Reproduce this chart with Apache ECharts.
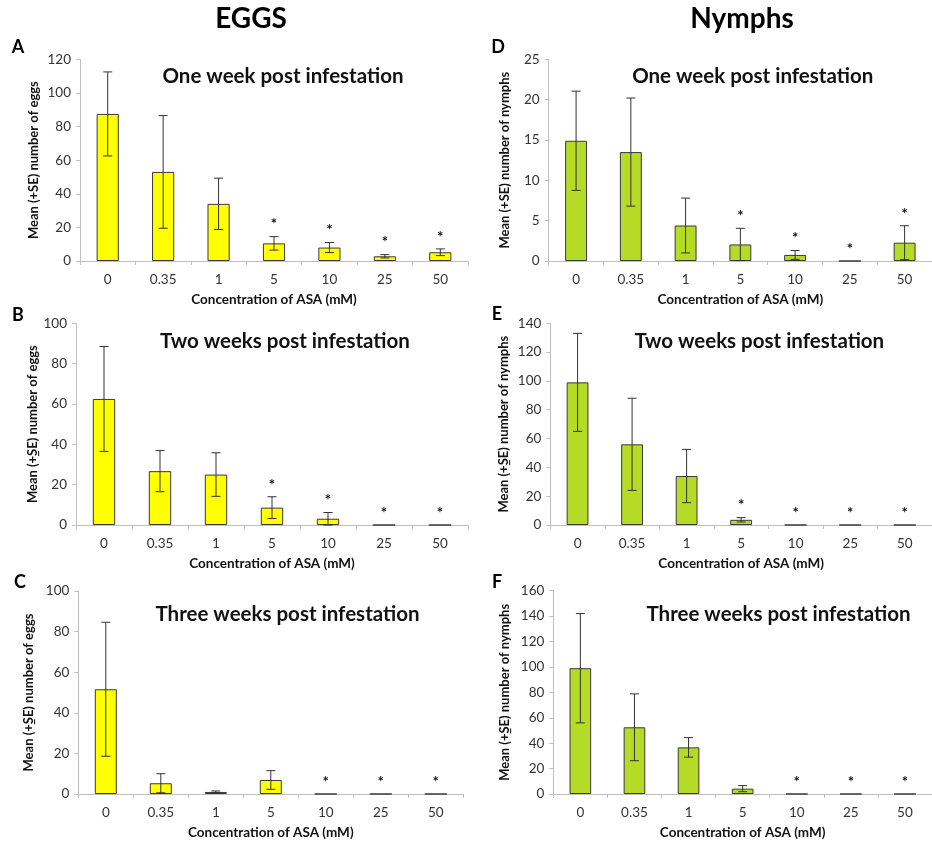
<!DOCTYPE html>
<html>
<head>
<meta charset="utf-8">
<script src="https://cdn.jsdelivr.net/npm/echarts@6/dist/echarts.min.js"></script>
<style>
  html, body { margin: 0; padding: 0; background: #fff; }
  #chart { width: 932px; height: 846px; }
</style>
</head>
<body>
<div id="chart"></div>
<script>
// ASA concentrations (mM) on every x axis
const concentrations = ['0', '0.35', '1', '5', '10', '25', '50'];

// Eggs: mean and standard error per concentration
const eggsWeek1 = [87.5, 53, 34, 10.5, 8, 2.8, 5.2];
const eggsWeek1SE = [25, 33.5, 15.3, 4, 3, 1, 2];
const eggsWeek1Sig = [0, 0, 0, 1, 1, 1, 1];

const eggsWeek2 = [62.5, 26.7, 25, 8.6, 3.1, 0, 0];
const eggsWeek2SE = [26, 10.2, 10.8, 5.4, 3.1, 0, 0];
const eggsWeek2Sig = [0, 0, 0, 1, 1, 1, 1];

const eggsWeek3 = [51.6, 5.3, 1, 6.9, 0, 0, 0];
const eggsWeek3SE = [33, 4.7, 0.5, 4.6, 0, 0, 0];
const eggsWeek3Sig = [0, 0, 0, 0, 1, 1, 1];

// Nymphs: mean and standard error per concentration
const nymphsWeek1 = [14.9, 13.5, 4.4, 2.05, 0.75, 0, 2.27];
const nymphsWeek1SE = [6.15, 6.7, 3.4, 2, 0.55, 0, 2.1];
const nymphsWeek1Sig = [0, 0, 0, 1, 1, 1, 1];

const nymphsWeek2 = [99, 56, 34, 3.6, 0, 0, 0];
const nymphsWeek2SE = [34, 32, 18.5, 1.5, 0, 0, 0];
const nymphsWeek2Sig = [0, 0, 0, 1, 1, 1, 1];

const nymphsWeek3 = [99, 52.5, 36.7, 4.2, 0, 0, 0];
const nymphsWeek3SE = [43, 26.3, 7.7, 2.4, 0, 0, 0];
const nymphsWeek3Sig = [0, 0, 0, 0, 1, 1, 1];

// y-axis ranges
const yMaxEggs = [120, 100, 100];
const yMaxNymphs = [25, 140, 160];
const yStepEggs = [20, 20, 20];
const yStepNymphs = [5, 20, 20];

const FONT = 'Lato';
const YELLOW = '#FFFF00';
const GREEN = '#B5DB26';

const panels = [
  { letter: 'A', sub: 'One week post infestation', mean: eggsWeek1, se: eggsWeek1SE, sig: eggsWeek1Sig,
    max: yMaxEggs[0], step: yStepEggs[0], color: YELLOW, yName: 'Mean (+SE) number of eggs',
    grid: { left: 80, top: 59.3, width: 388, height: 201.7 }, nameGap: 40,
    letterPos: [18, 47], subPos: [283, 76] },
  { letter: 'B', sub: 'Two weeks post infestation', mean: eggsWeek2, se: eggsWeek2SE, sig: eggsWeek2Sig,
    max: yMaxEggs[1], step: yStepEggs[1], color: YELLOW, yName: 'Mean (+\u0332SE) number of eggs',
    grid: { left: 76, top: 323.3, width: 392, height: 201.7 }, nameGap: 36,
    letterPos: [18, 315], subPos: [285, 341.7] },
  { letter: 'C', sub: 'Three weeks post infestation', mean: eggsWeek3, se: eggsWeek3SE, sig: eggsWeek3Sig,
    max: yMaxEggs[2], step: yStepEggs[2], color: YELLOW, yName: 'Mean (+\u0332SE) number of eggs',
    grid: { left: 78.3, top: 591, width: 385, height: 203 }, nameGap: 43,
    letterPos: [20, 582], subPos: [287.5, 614.3] },
  { letter: 'D', sub: 'One week post infestation', mean: nymphsWeek1, se: nymphsWeek1SE, sig: nymphsWeek1Sig,
    max: yMaxNymphs[0], step: yStepNymphs[0], color: GREEN, yName: 'Mean (+SE) number of nymphs',
    grid: { left: 548.7, top: 59.3, width: 390, height: 201.7 }, nameGap: 37,
    letterPos: [498, 47], subPos: [752.7, 76] },
  { letter: 'E', sub: 'Two weeks post infestation', mean: nymphsWeek2, se: nymphsWeek2SE, sig: nymphsWeek2Sig,
    max: yMaxNymphs[1], step: yStepNymphs[1], color: GREEN, yName: 'Mean (+\u0332SE) number of nymphs',
    grid: { left: 550.3, top: 323.3, width: 392, height: 201.7 }, nameGap: 40,
    letterPos: [497, 314], subPos: [759.3, 341.7] },
  { letter: 'F', sub: 'Three weeks post infestation', mean: nymphsWeek3, se: nymphsWeek3SE, sig: nymphsWeek3Sig,
    max: yMaxNymphs[2], step: yStepNymphs[2], color: GREEN, yName: 'Mean (+\u0332SE) number of nymphs',
    grid: { left: 553.3, top: 590.7, width: 390, height: 203.3 }, nameGap: 42,
    letterPos: [497, 582], subPos: [778.5, 614.3] }
];

const grids = [], xAxes = [], yAxes = [], series = [], graphics = [];

// column headings
graphics.push({ type: 'text', x: 251, y: 19, style: { text: 'EGGS', font: 'bold 28px ' + FONT, fill: '#000', textAlign: 'center', textVerticalAlign: 'middle' } });
graphics.push({ type: 'text', x: 742, y: 19, style: { text: 'Nymphs', font: 'bold 28px ' + FONT, fill: '#000', textAlign: 'center', textVerticalAlign: 'middle' } });

panels.forEach((p, i) => {
  grids.push(Object.assign({ containLabel: false }, p.grid));

  xAxes.push({
    type: 'category', gridIndex: i, data: concentrations,
    name: 'Concentration of ASA (mM)', nameLocation: 'middle', nameGap: 32,
    nameTextStyle: { fontFamily: FONT, fontWeight: 'bold', fontSize: 13.5, color: '#111' },
    axisLine: { lineStyle: { color: '#BFBFBF', width: 1 } },
    axisTick: { show: true, length: 4, lineStyle: { color: '#BFBFBF' } },
    axisLabel: { fontFamily: FONT, fontSize: 13.5, color: '#333', margin: 12 },
    splitLine: { show: false }
  });

  yAxes.push({
    type: 'value', gridIndex: i, min: 0, max: p.max, interval: p.step,
    name: p.yName, nameLocation: 'middle', nameGap: p.nameGap, nameRotate: 90,
    nameTextStyle: { fontFamily: FONT, fontWeight: 'bold', fontSize: 13, color: '#111' },
    axisLine: { show: true, lineStyle: { color: '#BFBFBF', width: 1 } },
    axisTick: { show: true, length: 4, lineStyle: { color: '#BFBFBF' } },
    axisLabel: { fontFamily: FONT, fontSize: 13.5, color: '#333', margin: 9 },
    splitLine: { show: false }
  });

  // bars
  series.push({
    type: 'bar', xAxisIndex: i, yAxisIndex: i, data: p.mean, barWidth: '40%',
    itemStyle: { color: p.color, borderColor: '#3a3a3a', borderWidth: 1 },
    silent: true, animation: false
  });

  // standard-error whiskers
  const errData = p.mean.map((m, k) => [k, m, p.se[k]]);
  series.push({
    type: 'custom', xAxisIndex: i, yAxisIndex: i, data: errData, silent: true, animation: false, z: 5,
    renderItem: (params, api) => {
      const k = api.value(0), m = api.value(1), s = api.value(2);
      if (!s) return null;
      const top = api.coord([k, m + s]);
      const bot = api.coord([k, Math.max(0, m - s)]);
      const cap = 4.5;
      const st = { stroke: '#333', lineWidth: 1 };
      return {
        type: 'group', children: [
          { type: 'line', shape: { x1: top[0], y1: top[1], x2: bot[0], y2: bot[1] }, style: st },
          { type: 'line', shape: { x1: top[0] - cap, y1: top[1], x2: top[0] + cap, y2: top[1] }, style: st },
          { type: 'line', shape: { x1: bot[0] - cap, y1: bot[1], x2: bot[0] + cap, y2: bot[1] }, style: st }
        ]
      };
    }
  });

  // significance asterisks above the whiskers
  const sigData = p.mean.map((m, k) => [k, m + p.se[k], p.sig[k]]);
  series.push({
    type: 'custom', xAxisIndex: i, yAxisIndex: i, data: sigData, silent: true, animation: false, z: 6,
    renderItem: (params, api) => {
      if (!api.value(2)) return null;
      const pt = api.coord([api.value(0), api.value(1)]);
      return {
        type: 'text', x: pt[0], y: pt[1] - 12,
        style: { text: '*', font: 'bold 15px ' + FONT, fill: '#111', textAlign: 'center', textVerticalAlign: 'middle' }
      };
    }
  });

  graphics.push({ type: 'text', x: p.letterPos[0], y: p.letterPos[1], style: { text: p.letter, font: 'bold 18px ' + FONT, fill: '#000', textAlign: 'center', textVerticalAlign: 'middle' } });
  graphics.push({ type: 'text', x: p.subPos[0], y: p.subPos[1], style: { text: p.sub, font: 'bold 20.5px ' + FONT, fill: '#111', textAlign: 'center', textVerticalAlign: 'middle' } });
});

const chart = echarts.init(document.getElementById('chart'), null, { renderer: 'canvas' });
chart.setOption({
  animation: false,
  backgroundColor: '#fff',
  grid: grids,
  xAxis: xAxes,
  yAxis: yAxes,
  series: series,
  graphic: graphics
});
</script>
</body>
</html>
